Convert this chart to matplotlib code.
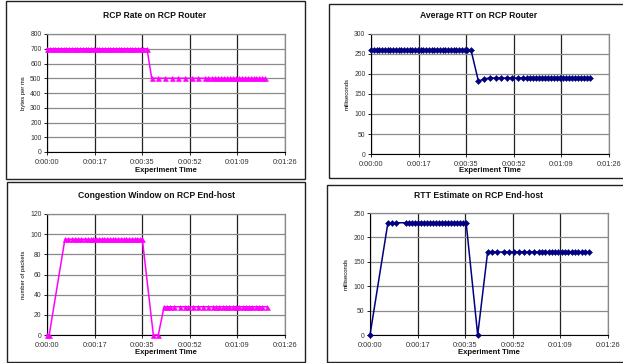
import matplotlib
matplotlib.use("Agg")
import matplotlib.pyplot as plt
from matplotlib.patches import Rectangle

plt.rcParams['font.family'] = ['Liberation Sans', 'DejaVu Sans']

W, H = 623, 363

# ---------------- data ----------------
x_tick_pos = [0, 17.28, 34.56, 51.84, 69.12, 86.4]
x_tick_labels = ["0:00:00", "0:00:17", "0:00:35", "0:00:52", "0:01:09", "0:01:26"]

rate_time = [0, 1, 2, 3, 4, 5, 6, 7, 8, 9, 10, 11, 12, 13, 14, 15, 16, 17, 18, 19, 20, 21, 22, 23, 24, 25,
             26, 27, 28, 29, 30, 31, 32, 33, 34, 35, 36.3,
             38.0, 40.4, 42.8, 45.3, 47.7, 50.1, 52.5, 54.9, 57.4, 58.6, 59.8, 61.0, 62.1, 63.2, 64.3, 65.4,
             66.5, 67.6, 68.7, 69.8, 70.9, 72.0, 73.0, 74.0, 75.0, 76.0, 77.0, 78.0, 79.1]
rate_val = [700, 700, 700, 700, 700, 700, 700, 700, 700, 700, 700, 700, 700, 700, 700, 700, 700, 700, 700,
            700, 700, 700, 700, 700, 700, 700, 700, 700, 700, 700, 700, 700, 700, 700, 700, 700, 700,
            500, 500, 500, 500, 500, 500, 500, 500, 500, 500, 500, 500, 500, 500, 500, 500, 500, 500, 500,
            500, 500, 500, 500, 500, 500, 500, 500, 500, 500]

avg_time = [0, 1, 2, 3, 4, 5, 6, 7, 8, 9, 10, 11, 12, 13, 14, 15, 16, 17, 18, 19, 20, 21, 22, 23, 24, 25,
            26, 27, 28, 29, 30, 31, 32, 33, 34, 35, 36.3,
            39.0, 41.2, 43.2, 45.2, 47.2, 49.2, 51.2, 53.2, 55.2, 56.6, 57.7, 58.8, 59.9, 61.0, 62.1, 63.2,
            64.3, 65.4, 66.5, 67.6, 68.7, 69.8, 70.9, 72.0, 73.1, 74.2, 75.3, 76.4, 77.5, 78.5, 79.5]
avg_val = [260, 260, 260, 260, 260, 260, 260, 260, 260, 260, 260, 260, 260, 260, 260, 260, 260, 260, 260,
           260, 260, 260, 260, 260, 260, 260, 260, 260, 260, 260, 260, 260, 260, 260, 260, 260, 260,
           182, 188, 190, 190, 190, 190, 190, 190, 190, 190, 190, 190, 190, 190, 190, 190, 190, 190, 190,
           190, 190, 190, 190, 190, 190, 190, 190, 190, 190, 190, 190]

cwnd_time = [0, 0.8, 6.5, 7.7, 9.0, 10.2, 11.4, 12.2, 13.8, 14.8, 15.8, 16.8, 17.8, 18.8, 19.8, 20.8, 21.8,
             22.8, 23.8, 24.8, 25.8, 26.8, 27.8, 28.8, 29.8, 30.8, 31.8, 32.8, 33.8, 34.6,
             38.6, 40.4, 42.5, 43.6, 44.8, 46.0, 48.2, 50.0, 51.2, 53.0, 54.8, 56.6, 58.4, 60.2, 61.4, 62.6,
             63.8, 65.0, 66.2, 67.4, 68.6, 69.8, 71.0, 72.2, 73.4, 74.6, 75.8, 77.0, 78.2, 79.7]
cwnd_val = [0, 0, 95, 95, 95, 95, 95, 95, 95, 95, 95, 95, 95, 95, 95, 95, 95, 95, 95, 95, 95, 95, 95, 95,
            95, 95, 95, 95, 95, 95,
            0, 0, 28, 28, 28, 28, 28, 28, 28, 28, 28, 28, 28, 28, 28, 28, 28, 28, 28, 28, 28, 28, 28, 28,
            28, 28, 28, 28, 28, 28]

rtt_time = [0, 6.5, 8.0, 9.4, 13.0, 14.1, 15.2, 16.3, 17.4, 18.5, 19.6, 20.7, 21.8, 22.9, 24.0, 25.1, 26.2,
            27.3, 28.4, 29.5, 30.6, 31.7, 32.8, 33.9, 34.9,
            39.1, 42.7, 44.3, 46.0, 48.6, 50.4, 52.2, 54.0, 55.8, 57.6, 59.4, 61.2, 62.4, 63.6, 64.8, 66.0,
            67.2, 68.4, 69.6, 70.8, 72.0, 73.2, 74.4, 75.6, 76.8, 78.0, 79.6]
rtt_val = [0, 230, 230, 230, 230, 230, 230, 230, 230, 230, 230, 230, 230, 230, 230, 230, 230, 230, 230, 230,
           230, 230, 230, 230, 230,
           0, 170, 170, 170, 170, 170, 170, 170, 170, 170, 170, 170, 170, 170, 170, 170, 170, 170, 170, 170,
           170, 170, 170, 170, 170, 170, 170]

PINK = "#FF00FF"
NAVY = "#000080"

panels = [
    # title, ylabel, times, values, yticks, color, marker, axes box (l, r, top, bottom px), title x, title y, xlabel y
    ("RCP Rate on RCP Router", "bytes per ms", rate_time, rate_val,
     [0, 100, 200, 300, 400, 500, 600, 700, 800], PINK, "^", (47, 285, 34, 152), 155, 15, 170),
    ("Average RTT on RCP Router", "milliseconds", avg_time, avg_val,
     [0, 50, 100, 150, 200, 250, 300], NAVY, "D", (371, 609, 34, 154), 479, 15, 171),
    ("Congestion Window on RCP End-host", "number of packets", cwnd_time, cwnd_val,
     [0, 20, 40, 60, 80, 100, 120], PINK, "^", (47, 285, 214, 335), 156, 195, 353),
    ("RTT Estimate on RCP End-host", "milliseconds", rtt_time, rtt_val,
     [0, 50, 100, 150, 200, 250], NAVY, "D", (370, 608, 213, 335), 478, 195, 353),
]

fig = plt.figure(figsize=(W / 100, H / 100), dpi=100)
fig.patch.set_facecolor("white")

# chart-area frames (pixels: x0, y0top, x1, y1bottom)
frames = [(6, 1, 305, 179), (329, 4, 640, 178), (7, 182, 305, 362), (327, 185, 640, 362)]
for x0, y0, x1, y1 in frames:
    fig.patches.append(Rectangle((x0 / W, 1 - y1 / H), (x1 - x0) / W, (y1 - y0) / H,
                                 transform=fig.transFigure, fill=False,
                                 edgecolor="#222222", linewidth=1.0))

for title, ylabel, tt, vv, yticks, color, marker, box, tx, ty, xly in panels:
    l, r, t, b = box
    ax = fig.add_axes([l / W, 1 - b / H, (r - l) / W, (b - t) / H])
    ax.plot(tt, vv, color=color, linewidth=1.1, marker=marker,
            markersize=3.6 if marker == "^" else 3.0, markeredgewidth=0.4, clip_on=False, zorder=3)
    ax.set_xlim(0, 86.4)
    ax.set_ylim(yticks[0], yticks[-1])
    ax.set_xticks(x_tick_pos)
    ax.set_xticklabels(x_tick_labels, fontsize=5.3, color="#333333")
    ax.set_yticks(yticks)
    ax.set_yticklabels([str(v) for v in yticks], fontsize=4.9, color="#333333")
    ax.tick_params(axis="y", length=2.5, width=0.6, pad=1.5, direction="out")
    ax.tick_params(axis="x", length=2.5, width=0.6, pad=2.5, direction="out")
    ax.grid(axis="y", color="#8a8a8a", linewidth=0.9)
    ax.grid(axis="x", color="#222222", linewidth=0.9)
    ax.set_axisbelow(True)
    for s in ("top", "right"):
        ax.spines[s].set_color("#8a8a8a")
        ax.spines[s].set_linewidth(0.9)
    for s in ("left", "bottom"):
        ax.spines[s].set_color("black")
        ax.spines[s].set_linewidth(0.8)
    ax.set_ylabel(ylabel, fontsize=4.2, labelpad=3)
    fig.text(tx / W, 1 - ty / H, title, fontsize=6.2, fontweight="bold",
             ha="center", va="center", color="#111111")
    fig.text((l + r) / 2 / W, 1 - xly / H, "Experiment Time", fontsize=5.6, fontweight="bold",
             ha="center", va="center", color="#111111")

fig.savefig("out.png", dpi=100, facecolor="white")
